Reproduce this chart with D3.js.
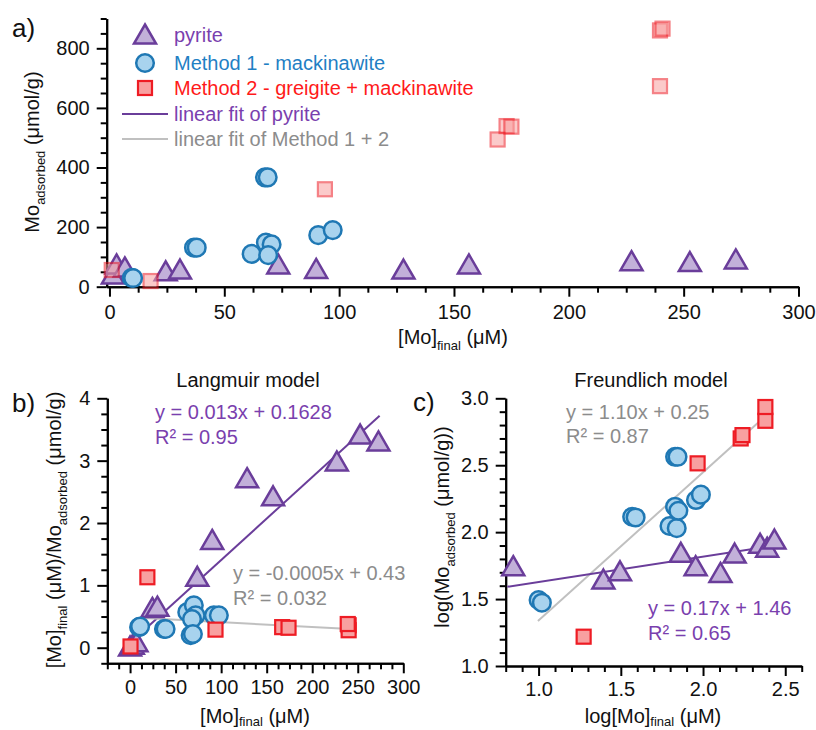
<!DOCTYPE html>
<html>
<head>
<meta charset="utf-8">
<script src="https://cdn.jsdelivr.net/npm/d3@7"></script>
<style>
  html, body { margin: 0; padding: 0; background: #fff; }
  svg { display: block; font-family: "Liberation Sans", Arial, sans-serif; }
</style>
</head>
<body>
<svg id="chart" width="816" height="730"></svg>
<script>
// ---------- DATA ----------
// Panel a: Mo adsorbed vs [Mo]final
const aPyriteX = [1.5, 3.1, 6.7, 24.5, 30.7, 73.5, 90, 128, 156.5, 227.3, 252.7, 272.7];
const aPyriteY = [39, 73, 63, 50, 56, 73, 58, 56, 73, 84, 81, 90];
const aM1X = [9.7, 10.3, 36.8, 38, 61.9, 67.7, 68.9, 68.1, 70.6, 69.1, 90.9, 97.2];
const aM1Y = [30, 29, 131, 131, 110, 367, 367, 148, 142, 106, 173, 190];
const aM2X = [1, 17.9, 93.8, 169, 172.9, 175, 239.7, 239.7, 240.8];
const aM2Y = [56, 19, 327, 494, 539, 537, 673, 860, 866];

// Panel b: Langmuir
const bPyriteX = [0, 3, 7, 24.5, 30, 73.8, 90.2, 128.5, 157, 227, 252.6, 272.7];
const bPyriteY = [0.01, 0.04, 0.08, 0.63, 0.65, 1.13, 1.72, 2.71, 2.42, 2.98, 3.41, 3.30];
const bM1X = [9.9, 11, 37.2, 39, 62.8, 70, 72, 68, 66.5, 69, 92, 97.5];
const bM1Y = [0.33, 0.34, 0.30, 0.30, 0.57, 0.68, 0.52, 0.46, 0.20, 0.22, 0.52, 0.52];
const bM2X = [0.5, 19, 93.8, 167, 174, 240, 240, 239];
const bM2Y = [0.02, 1.13, 0.29, 0.33, 0.32, 0.36, 0.28, 0.38];
const bPyriteFitX = [-8, 274];
const bPyriteFitY = [-0.03, 3.72];
const bM12FitX = [10, 242];
const bM12FitY = [0.48, 0.30];

// Panel c: Freundlich
const cPyriteX = [0.846, 1.394, 1.495, 1.865, 1.955, 2.106, 2.192, 2.347, 2.39, 2.434];
const cPyriteY = [1.742, 1.642, 1.704, 1.842, 1.742, 1.692, 1.836, 1.909, 1.88, 1.941];
const cM1X = [1.0, 1.02, 1.569, 1.59, 1.796, 1.84, 1.83, 1.85, 1.83, 1.845, 1.957, 1.987];
const cM1Y = [1.493, 1.473, 2.115, 2.11, 2.046, 2.03, 2.19, 2.16, 2.563, 2.563, 2.24, 2.28];
const cM2X = [1.274, 1.967, 2.229, 2.24, 2.379, 2.379];
const cM2Y = [1.219, 2.514, 2.70, 2.725, 2.832, 2.935];
const cPyriteFitX = [0.81, 2.464];
const cPyriteFitY = [1.592, 1.904];
const cM12FitX = [0.996, 2.387];
const cM12FitY = [1.336, 2.875];

// Ticks
const aXTicks = [0, 50, 100, 150, 200, 250, 300];
const aYTicks = [0, 200, 400, 600, 800];
const bXTicks = [0, 50, 100, 150, 200, 250, 300];
const bYTicks = [0, 1, 2, 3, 4];
const cXTicks = [1.0, 1.5, 2.0, 2.5];
const cYTicks = [1.0, 1.5, 2.0, 2.5, 3.0];

const legendLabels = ["pyrite", "Method 1 - mackinawite", "Method 2 - greigite + mackinawite",
                      "linear fit of pyrite", "linear fit of Method 1 + 2"];

// ---------- STYLE ----------
const C = {
  pyStroke: "#6a3d9a", pyFill: "#c2b0d9",
  m1Stroke: "#1f78b4", m1Fill: "#a8d3ee",
  m2Stroke: "#ee1c24", m2Fill: "#f8a0a0",
  pyText: "#7a3fae", m1Text: "#1f80c4", m2Text: "#ff1a1a",
  grayLine: "#c0c0c0", grayText: "#8c8c8c"
};
const FS = 20;

const svg = d3.select("#chart");

function range(start, stop, step) {
  const out = [];
  for (let v = start; v <= stop + 1e-9; v += step) out.push(+v.toFixed(6));
  return out;
}

function drawAxes(x, y, xMaj, yMaj, xMin, yMin, xFmt, yFmt, xPad) {
  const xr = x.range(), yr = y.range();
  const g = svg.append("g");
  const gxMin = g.append("g").attr("transform", `translate(0,${yr[0]})`)
    .call(d3.axisBottom(x).tickValues(xMin).tickSize(6).tickSizeOuter(0).tickFormat(""));
  const gx = g.append("g").attr("transform", `translate(0,${yr[0]})`)
    .call(d3.axisBottom(x).tickValues(xMaj).tickSize(10).tickSizeOuter(0).tickPadding(xPad).tickFormat(xFmt));
  const gyMin = g.append("g").attr("transform", `translate(${xr[0]},0)`)
    .call(d3.axisLeft(y).tickValues(yMin).tickSize(6).tickSizeOuter(0).tickFormat(""));
  const gy = g.append("g").attr("transform", `translate(${xr[0]},0)`)
    .call(d3.axisLeft(y).tickValues(yMaj).tickSize(10).tickSizeOuter(0).tickPadding(7).tickFormat(yFmt));
  [gxMin, gx, gyMin, gy].forEach(a => {
    a.selectAll("path.domain").attr("stroke", "#000").attr("stroke-width", 2);
    a.selectAll(".tick line").attr("stroke", "#000").attr("stroke-width", 2);
    a.selectAll(".tick text").attr("font-size", FS).attr("fill", "#111")
      .attr("font-family", "'Liberation Sans', Arial, sans-serif");
  });
  gx.selectAll(".tick text").attr("dy", "0.74em");
}

const triPath = "M0,-10.5L11,8.5L-11,8.5Z";

function drawTriangles(x, y, xs, ys) {
  svg.append("g").selectAll("path").data(xs).join("path")
    .attr("d", triPath)
    .attr("transform", (d, i) => `translate(${x(d)},${y(ys[i])})`)
    .attr("fill", C.pyFill).attr("stroke", C.pyStroke).attr("stroke-width", 2.5)
    .attr("stroke-linejoin", "miter");
}
function drawCircles(x, y, xs, ys) {
  svg.append("g").selectAll("circle").data(xs).join("circle")
    .attr("cx", d => x(d)).attr("cy", (d, i) => y(ys[i])).attr("r", 8.8)
    .attr("fill", C.m1Fill).attr("stroke", C.m1Stroke).attr("stroke-width", 2.5);
}
function drawSquares(x, y, xs, ys, opacity) {
  svg.append("g").selectAll("rect").data(xs).join("rect")
    .attr("x", d => x(d) - 7).attr("y", (d, i) => y(ys[i]) - 7)
    .attr("width", 14).attr("height", 14)
    .attr("fill", C.m2Fill).attr("stroke", C.m2Stroke).attr("stroke-width", 2.2)
    .attr("opacity", opacity);
}
function drawLine(x, y, xs, ys, color) {
  svg.append("path")
    .datum(xs.map((d, i) => [d, ys[i]]))
    .attr("d", d3.line().x(d => x(d[0])).y(d => y(d[1])))
    .attr("fill", "none").attr("stroke", color).attr("stroke-width", 2);
}
function subText(g, parts, attrs, shift) {
  const s = shift || 6;
  const t = g.append("text");
  Object.entries(attrs).forEach(([k, v]) => t.attr(k, v));
  let shifted = false;
  parts.forEach(p => {
    const ts = t.append("tspan").text(p.t);
    if (p.sub) { ts.attr("font-size", 13).attr("dy", shifted ? 0 : s); shifted = true; }
    else { ts.attr("font-size", FS); if (shifted) { ts.attr("dy", -s); shifted = false; } }
  });
  return t;
}

// ---------- PANEL A ----------
const xA = d3.scaleLinear().domain([-1.2, 300]).range([106.7, 798.5]);
const yA = d3.scaleLinear().domain([0, 900]).range([286.7, 18.5]);
drawAxes(xA, yA, aXTicks, aYTicks,
  range(0, 300, 12.5).filter(v => v % 50 !== 0),
  range(0, 900, 50).filter(v => v % 200 !== 0),
  d3.format("d"), d3.format("d"), 8);

drawTriangles(xA, yA, aPyriteX, aPyriteY);
drawSquares(xA, yA, aM2X, aM2Y, 0.55);
drawCircles(xA, yA, aM1X, aM1Y);

subText(svg, [{t: "Mo"}, {t: "adsorbed", sub: true}, {t: " (μmol/g)"}],
  {transform: "translate(39,152) rotate(-90)", "text-anchor": "middle", fill: "#111"});
subText(svg, [{t: "[Mo]"}, {t: "final", sub: true}, {t: " (μM)"}],
  {x: 453, y: 344, "text-anchor": "middle", fill: "#111"});
svg.append("text").attr("x", 12).attr("y", 37).attr("font-size", 26).attr("fill", "#111").text("a)");

// Legend
const lg = svg.append("g");
const rowsY = [35, 63, 88, 114, 139];
const legendColors = [C.pyText, C.m1Text, C.m2Text, C.pyText, C.grayText];
lg.append("path").attr("d", triPath).attr("transform", `translate(145,${rowsY[0]})`)
  .attr("fill", C.pyFill).attr("stroke", C.pyStroke).attr("stroke-width", 2.5);
lg.append("circle").attr("cx", 145).attr("cy", rowsY[1]).attr("r", 8.8)
  .attr("fill", C.m1Fill).attr("stroke", C.m1Stroke).attr("stroke-width", 2.5);
lg.append("rect").attr("x", 138).attr("y", rowsY[2] - 7).attr("width", 14).attr("height", 14)
  .attr("fill", C.m2Fill).attr("stroke", C.m2Stroke).attr("stroke-width", 2.2);
lg.append("line").attr("x1", 122).attr("x2", 168).attr("y1", rowsY[3]).attr("y2", rowsY[3])
  .attr("stroke", C.pyStroke).attr("stroke-width", 2);
lg.append("line").attr("x1", 122).attr("x2", 168).attr("y1", rowsY[4]).attr("y2", rowsY[4])
  .attr("stroke", C.grayLine).attr("stroke-width", 2);
legendLabels.forEach((l, i) => {
  lg.append("text").attr("x", 174).attr("y", rowsY[i] + 7).attr("font-size", FS)
    .attr("fill", legendColors[i]).text(l);
});

// ---------- PANEL B ----------
const xB = d3.scaleLinear().domain([-25, 300]).range([107.3, 403.3]);
const yB = d3.scaleLinear().domain([-0.25, 4]).range([663.3, 398.3]);
drawAxes(xB, yB, bXTicks, bYTicks,
  range(-25, 300, 12.5).filter(v => v % 50 !== 0),
  range(-0.25, 4, 0.25).filter(v => Math.abs(v - Math.round(v)) > 1e-6),
  d3.format("d"), d3.format("d"), 6);

drawLine(xB, yB, bPyriteFitX, bPyriteFitY, C.pyStroke);
drawLine(xB, yB, bM12FitX, bM12FitY, C.grayLine);
drawTriangles(xB, yB, bPyriteX, bPyriteY);
drawCircles(xB, yB, bM1X, bM1Y);
drawSquares(xB, yB, bM2X, bM2Y, 1);

svg.append("text").attr("x", 248).attr("y", 387).attr("text-anchor", "middle")
  .attr("font-size", FS).attr("fill", "#111").text("Langmuir model");
svg.append("text").attr("x", 12).attr("y", 412).attr("font-size", 26).attr("fill", "#111").text("b)");
svg.append("text").attr("x", 155).attr("y", 419).attr("font-size", FS).attr("fill", C.pyText).text("y = 0.013x + 0.1628");
svg.append("text").attr("x", 155).attr("y", 444).attr("font-size", FS).attr("fill", C.pyText).text("R² = 0.95");
svg.append("text").attr("x", 233).attr("y", 580).attr("font-size", FS).attr("fill", C.grayText).text("y = -0.0005x + 0.43");
svg.append("text").attr("x", 233).attr("y", 605).attr("font-size", FS).attr("fill", C.grayText).text("R² = 0.032");
subText(svg, [{t: "[Mo]"}, {t: "final", sub: true}, {t: " (μM)/Mo"}, {t: "adsorbed", sub: true}, {t: " (μmol/g)"}],
  {transform: "translate(61,530) rotate(-90)", "text-anchor": "middle", fill: "#111"});
subText(svg, [{t: "[Mo]"}, {t: "final", sub: true}, {t: " (μM)"}],
  {x: 255, y: 723, "text-anchor": "middle", fill: "#111"}, 3);

// ---------- PANEL C ----------
const xC = d3.scaleLinear().domain([0.8, 2.6]).range([505.7, 801.7]);
const yC = d3.scaleLinear().domain([1.0, 3.0]).range([666, 398.3]);
drawAxes(xC, yC, cXTicks, cYTicks,
  range(0.8, 2.6, 0.1).filter(v => Math.abs(v * 2 - Math.round(v * 2)) > 1e-6),
  range(1.0, 3.0, 0.1).filter(v => Math.abs(v * 2 - Math.round(v * 2)) > 1e-6),
  d3.format(".1f"), d3.format(".1f"), 5);

drawLine(xC, yC, cM12FitX, cM12FitY, C.grayLine);
drawLine(xC, yC, cPyriteFitX, cPyriteFitY, C.pyStroke);
drawTriangles(xC, yC, cPyriteX, cPyriteY);
drawCircles(xC, yC, cM1X, cM1Y);
drawSquares(xC, yC, cM2X, cM2Y, 1);

svg.append("text").attr("x", 651).attr("y", 387).attr("text-anchor", "middle")
  .attr("font-size", FS).attr("fill", "#111").text("Freundlich model");
svg.append("text").attr("x", 413).attr("y", 411).attr("font-size", 26).attr("fill", "#111").text("c)");
svg.append("text").attr("x", 566).attr("y", 419).attr("font-size", FS).attr("fill", C.grayText).text("y = 1.10x + 0.25");
svg.append("text").attr("x", 566).attr("y", 443).attr("font-size", FS).attr("fill", C.grayText).text("R² = 0.87");
svg.append("text").attr("x", 648).attr("y", 615).attr("font-size", FS).attr("fill", C.pyText).text("y = 0.17x + 1.46");
svg.append("text").attr("x", 648).attr("y", 640).attr("font-size", FS).attr("fill", C.pyText).text("R² = 0.65");
subText(svg, [{t: "log(Mo"}, {t: "adsorbed", sub: true}, {t: " (μmol/g))"}],
  {transform: "translate(449,527) rotate(-90)", "text-anchor": "middle", fill: "#111"});
subText(svg, [{t: "log[Mo]"}, {t: "final", sub: true}, {t: " (μM)"}],
  {x: 653, y: 723, "text-anchor": "middle", fill: "#111"}, 3);
</script>
</body>
</html>
